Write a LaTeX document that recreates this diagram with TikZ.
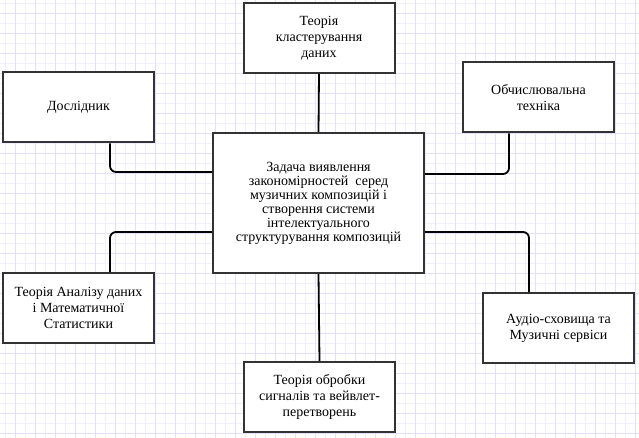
\documentclass[tikz,border=0pt]{standalone}
\usepackage{fontspec}
\setmainfont{Liberation Serif}
\usetikzlibrary{calc}
\definecolor{gridminor}{HTML}{F1EFFE}
\definecolor{gridmajor}{HTML}{E4DFFC}
\definecolor{boxline}{HTML}{333333}
\tikzstyle{box}=[rectangle,draw=boxline,fill=white,line width=2pt,align=center,inner sep=2pt,font=\fontsize{14}{16}\selectfont]
\tikzstyle{outer}=[box,minimum width=151pt,minimum height=70pt]
\tikzstyle{link}=[draw=black,line width=1.8pt,rounded corners=6pt]

\begin{document}
\begin{tikzpicture}[x=1pt,y=-1pt]

  \useasboundingbox (0,0) rectangle (639,438);
  \fill[white] (0,0) rectangle (639,438);

  % background grid
  \begin{scope}[shift={(5,3)}]
    \draw[gridminor, line width=0.7pt, step=10pt] (-5,-3) grid (639,438);
  \end{scope}
  \begin{scope}[shift={(15,13)}]
    \draw[gridmajor, line width=0.7pt, step=20pt] (-15,-13) grid (639,438);
  \end{scope}

  % central task
  \node[box, minimum width=211pt, minimum height=140pt, font=\fontsize{14}{14}\selectfont] (task) at (318.5,203)
    {Задача виявлення\\ закономірностей \ серед\\ музичних композицій і\\ створення системи\\ інтелектуального\\ структурування композицій};

  \foreach \pos/\name/\txt in {{(78.5,107.5)/res/{Дослідник}},
                               {(319,38)/clust/{Теорія\\ кластерування\\ даних}},
                               {(538.5,97.5)/comp/{Обчислювальна\\ техніка}},
                               {(78.5,308)/stat/{Теорія Аналізу даних\\ і Математичної\\ Статистики}},
                               {(558.5,328)/audio/{Аудіо-сховища та\\ Музичні сервіси}},
                               {(319.5,397)/sig/{Теорія обробки\\ сигналів та вейвлет-\\ перетворень}}}
      \node[outer] (\name) at \pos {\txt};

  % connectors
  \draw[link] (clust.south) -- (task.north);
  \draw[link] (task.south) -- (sig.north);
  \draw[link] ([xshift=31.5pt]res.south) |- ([yshift=31pt]task.west);
  \draw[link] ([xshift=-29.5pt]comp.south) |- ([yshift=29pt]task.east);
  \draw[link] ([xshift=31.5pt]stat.north) |- ([yshift=-29pt]task.west);
  \draw[link] ([xshift=-29.5pt]audio.north) |- ([yshift=-29pt]task.east);

\end{tikzpicture}
\end{document}
